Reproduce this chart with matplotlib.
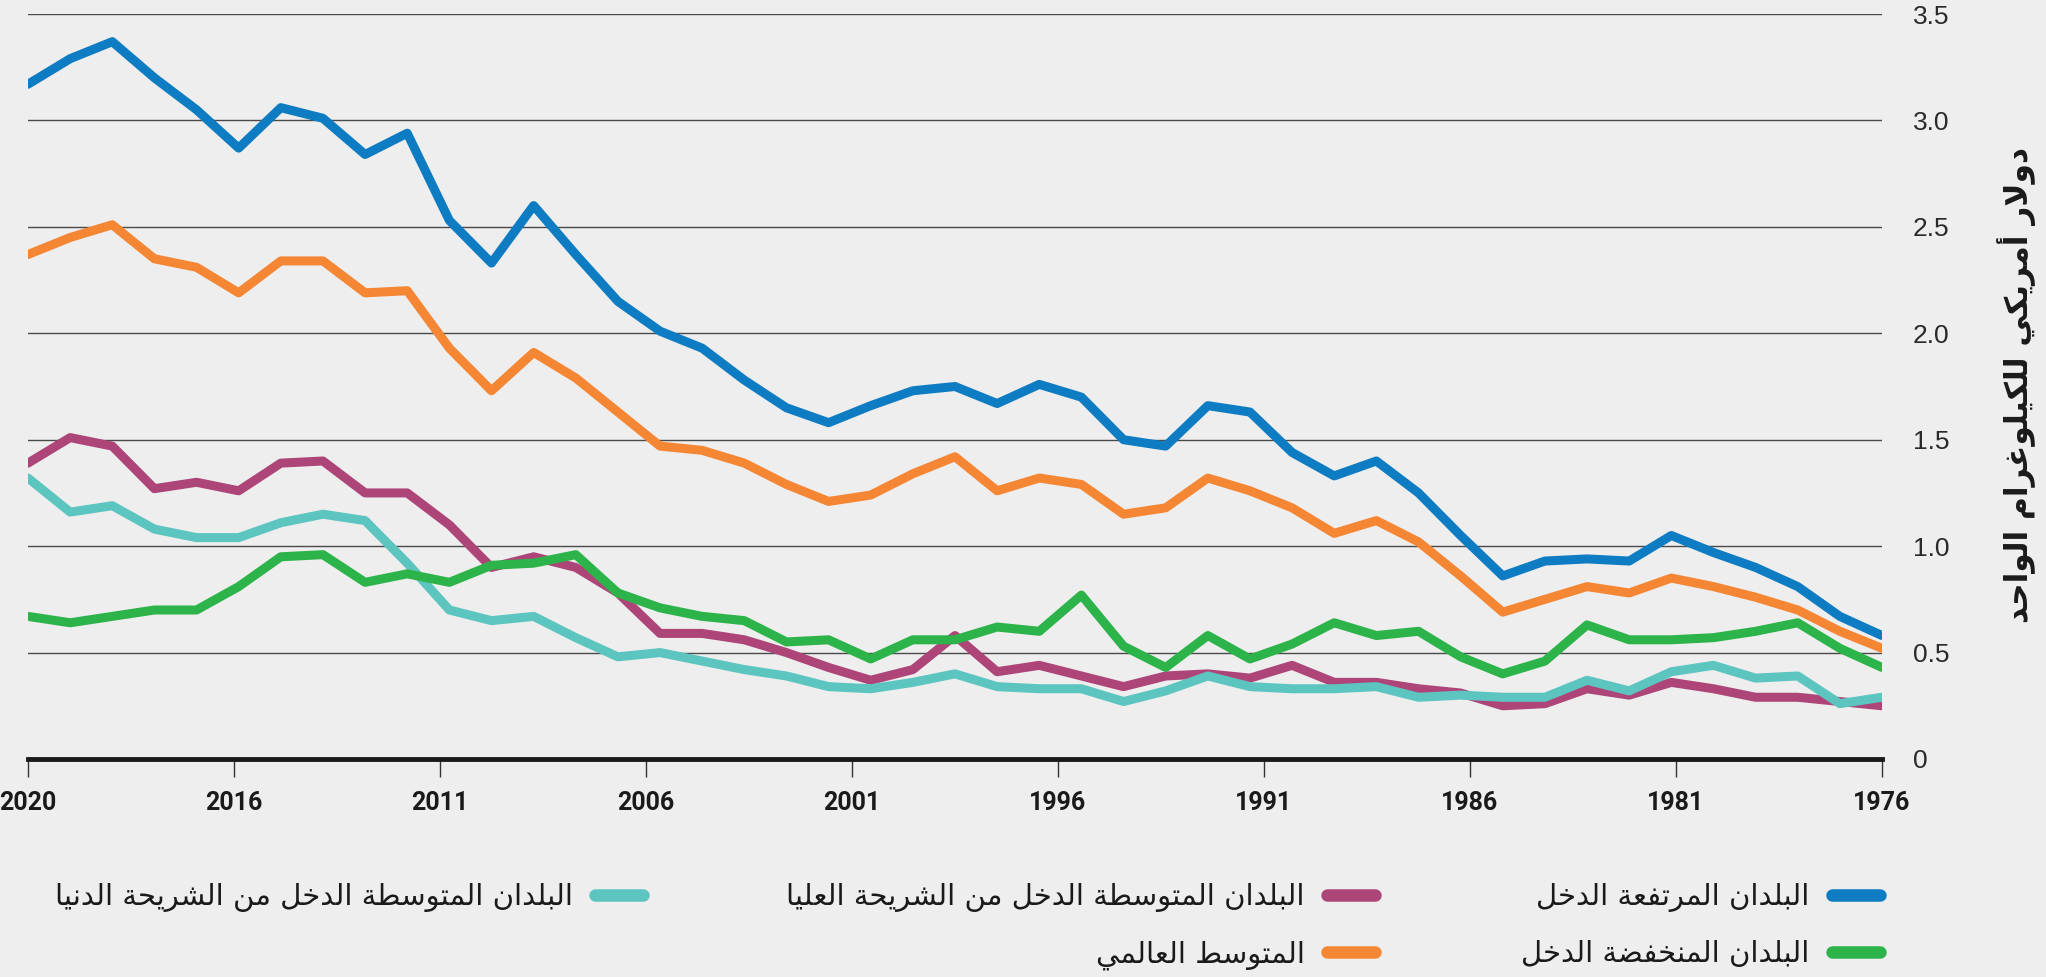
import numpy as np
import matplotlib
matplotlib.use("Agg")
from matplotlib import pyplot as plt
from matplotlib import font_manager as fm

# Data (index 0 = 2020 ... 44 = 1976)
years = list(range(2020, 1975, -1))
tick_labels = ["2020", "2016", "2011", "2006", "2001", "1996", "1991", "1986", "1981", "1976"]

high_income = [3.17, 3.29, 3.37, 3.20, 3.05, 2.87, 3.06, 3.01, 2.84, 2.94,
               2.53, 2.33, 2.60, 2.37, 2.15, 2.01, 1.93, 1.78, 1.65, 1.58,
               1.66, 1.73, 1.75, 1.67, 1.76, 1.70, 1.50, 1.47, 1.66, 1.63,
               1.44, 1.33, 1.40, 1.25, 1.05, 0.86, 0.93, 0.94, 0.93, 1.05,
               0.97, 0.90, 0.81, 0.67, 0.58]
world_avg = [2.37, 2.45, 2.51, 2.35, 2.31, 2.19, 2.34, 2.34, 2.19, 2.20,
             1.93, 1.73, 1.91, 1.79, 1.63, 1.47, 1.45, 1.39, 1.29, 1.21,
             1.24, 1.34, 1.42, 1.26, 1.32, 1.29, 1.15, 1.18, 1.32, 1.26,
             1.18, 1.06, 1.12, 1.02, 0.86, 0.69, 0.75, 0.81, 0.78, 0.85,
             0.81, 0.76, 0.70, 0.60, 0.52]
upper_middle = [1.39, 1.51, 1.47, 1.27, 1.30, 1.26, 1.39, 1.40, 1.25, 1.25,
                1.10, 0.90, 0.95, 0.90, 0.78, 0.59, 0.59, 0.56, 0.50, 0.43,
                0.37, 0.42, 0.58, 0.41, 0.44, 0.39, 0.34, 0.39, 0.40, 0.38,
                0.44, 0.36, 0.36, 0.33, 0.31, 0.25, 0.26, 0.33, 0.30, 0.36,
                0.33, 0.29, 0.29, 0.27, 0.25]
lower_middle = [1.32, 1.16, 1.19, 1.08, 1.04, 1.04, 1.11, 1.15, 1.12, 0.92,
                0.70, 0.65, 0.67, 0.57, 0.48, 0.50, 0.46, 0.42, 0.39, 0.34,
                0.33, 0.36, 0.40, 0.34, 0.33, 0.33, 0.27, 0.32, 0.39, 0.34,
                0.33, 0.33, 0.34, 0.29, 0.30, 0.29, 0.29, 0.37, 0.32, 0.41,
                0.44, 0.38, 0.39, 0.26, 0.29]
low_income = [0.67, 0.64, 0.67, 0.70, 0.70, 0.81, 0.95, 0.96, 0.83, 0.87,
              0.83, 0.91, 0.92, 0.96, 0.78, 0.71, 0.67, 0.65, 0.55, 0.56,
              0.47, 0.56, 0.56, 0.62, 0.60, 0.77, 0.53, 0.43, 0.58, 0.47,
              0.54, 0.64, 0.58, 0.60, 0.48, 0.40, 0.46, 0.63, 0.56, 0.56,
              0.57, 0.60, 0.64, 0.52, 0.43]

lbl_high = "البلدان المرتفعة الدخل"
lbl_low = "البلدان المنخفضة الدخل"
lbl_upper = "البلدان المتوسطة الدخل من الشريحة العليا"
lbl_world = "المتوسط العالمي"
lbl_lower = "البلدان المتوسطة الدخل من الشريحة الدنيا"
lbl_y = "دولار أمريكي للكيلوغرام الواحد"

# Colours
c_high = "#0e7cc2"
c_world = "#f58634"
c_upper = "#ad4579"
c_lower = "#5cc5c0"
c_low = "#2cb34a"
bg = "#eeeeee"

# Minimal Arabic shaping (matplotlib has no bidi / joining)
DUAL = {"ب": 0xFE8F, "ت": 0xFE95, "ث": 0xFE99, "ج": 0xFE9D, "ح": 0xFEA1,
        "خ": 0xFEA5, "س": 0xFEB1, "ش": 0xFEB5, "ص": 0xFEB9, "ض": 0xFEBD,
        "ط": 0xFEC1, "ظ": 0xFEC5, "ع": 0xFEC9, "غ": 0xFECD, "ف": 0xFED1,
        "ق": 0xFED5, "ك": 0xFED9, "ل": 0xFEDD, "م": 0xFEE1, "ن": 0xFEE5,
        "ه": 0xFEE9, "ي": 0xFEF1}
RIGHT = {"ا": 0xFE8D, "أ": 0xFE83, "إ": 0xFE87, "آ": 0xFE81, "ة": 0xFE93,
         "د": 0xFEA9, "ذ": 0xFEAB, "ر": 0xFEAD, "ز": 0xFEAF, "و": 0xFEED,
         "ى": 0xFEEF}
LAM_ALEF = {"ا": 0xFEFB, "أ": 0xFEF7, "إ": 0xFEF9, "آ": 0xFEF5}


def ar(text):
    out = []
    i = 0
    n = len(text)
    while i < n:
        c = text[i]
        if c not in DUAL and c not in RIGHT:
            out.append(c)
            i += 1
            continue
        prev = text[i - 1] if i > 0 else ""
        link_prev = prev in DUAL
        if c == "ل" and i + 1 < n and text[i + 1] in LAM_ALEF:
            base = LAM_ALEF[text[i + 1]]
            out.append(chr(base + 1 if link_prev else base))
            i += 2
            continue
        nxt = text[i + 1] if i + 1 < n else ""
        if c in DUAL:
            base = DUAL[c]
            link_next = nxt in DUAL or nxt in RIGHT
            if link_prev and link_next:
                out.append(chr(base + 3))
            elif link_prev:
                out.append(chr(base + 1))
            elif link_next:
                out.append(chr(base + 2))
            else:
                out.append(chr(base))
        else:
            base = RIGHT[c]
            out.append(chr(base + 1 if link_prev else base))
        i += 1
    return "".join(reversed(out))


plt.rcParams["font.family"] = ["DejaVu Sans"]

# narrow font for the year labels if there is one
installed = {f.name for f in fm.fontManager.ttflist}
if "Liberation Sans Narrow" in installed:
    x_font, x_size = "Liberation Sans Narrow", 21
else:
    x_font, x_size = "Roboto", 18

fig = plt.figure(figsize=(20.46, 9.77), dpi=100, facecolor=bg)
ax = fig.add_axes([28 / 2046, 1 - 759 / 977, (1882 - 28) / 2046, (759 - 14) / 977])
ax.set_facecolor(bg)

lw = 6.5
kw = dict(linewidth=lw, solid_capstyle="round", solid_joinstyle="round")
l_upper, = ax.plot(years, upper_middle, color=c_upper, label=ar(lbl_upper), **kw)
l_lower, = ax.plot(years, lower_middle, color=c_lower, label=ar(lbl_lower), **kw)
l_low, = ax.plot(years, low_income, color=c_low, label=ar(lbl_low), **kw)
l_world, = ax.plot(years, world_avg, color=c_world, label=ar(lbl_world), **kw)
l_high, = ax.plot(years, high_income, color=c_high, label=ar(lbl_high), **kw)

ax.set_xlim(2020, 1976)
ax.set_ylim(0, 3.5)

ax.set_xticks(np.linspace(2020, 1976, len(tick_labels)))
ax.set_xticklabels(tick_labels, family=[x_font, "DejaVu Sans"],
                   fontweight="bold", fontsize=x_size, color="#1a1a1a")
ax.tick_params(axis="x", direction="out", length=13, width=1.0, color="#333333", pad=10)

yt = [0, 0.5, 1.0, 1.5, 2.0, 2.5, 3.0, 3.5]
ax.set_yticks(yt)
ax.set_yticklabels(["0" if v == 0 else f"{v:.1f}" for v in yt],
                   family=["Liberation Sans", "DejaVu Sans"], fontsize=19, color="#2a2a2a")
ax.yaxis.tick_right()
ax.tick_params(axis="y", length=0, pad=22)

ax.grid(axis="y", color="#4a4a4a", linewidth=1.0)
ax.set_axisbelow(True)
for s in ["top", "left", "right"]:
    ax.spines[s].set_visible(False)
ax.spines["bottom"].set_linewidth(3.5)
ax.spines["bottom"].set_color("#1a1a1a")
ax.spines["bottom"].set_zorder(5)

fig.text(2017 / 2046, 1 - 385 / 977, ar(lbl_y), rotation=90, ha="center", va="center",
         fontsize=22.5, fontweight="bold", color="#1a1a1a")

# Legend: three right-aligned columns, marker to the right of the text
columns = [([l_high, l_low], 1880), ([l_upper, l_world], 1375), ([l_lower], 643)]
for handles, xr in columns:
    leg = fig.legend(handles=handles, labels=[h.get_label() for h in handles],
                     loc="upper right", bbox_to_anchor=(xr / 2046, 1 - 883 / 977),
                     markerfirst=False, frameon=False, fontsize=21,
                     handlelength=1.66, handletextpad=0.75, labelspacing=0.97,
                     borderaxespad=0, borderpad=0)
    for t in leg.get_texts():
        t.set_color("#1a1a1a")
    for ln in leg.get_lines():
        ln.set_linewidth(9)
        ln.set_solid_capstyle("round")

fig.savefig("out.png", dpi=100, facecolor=bg)
